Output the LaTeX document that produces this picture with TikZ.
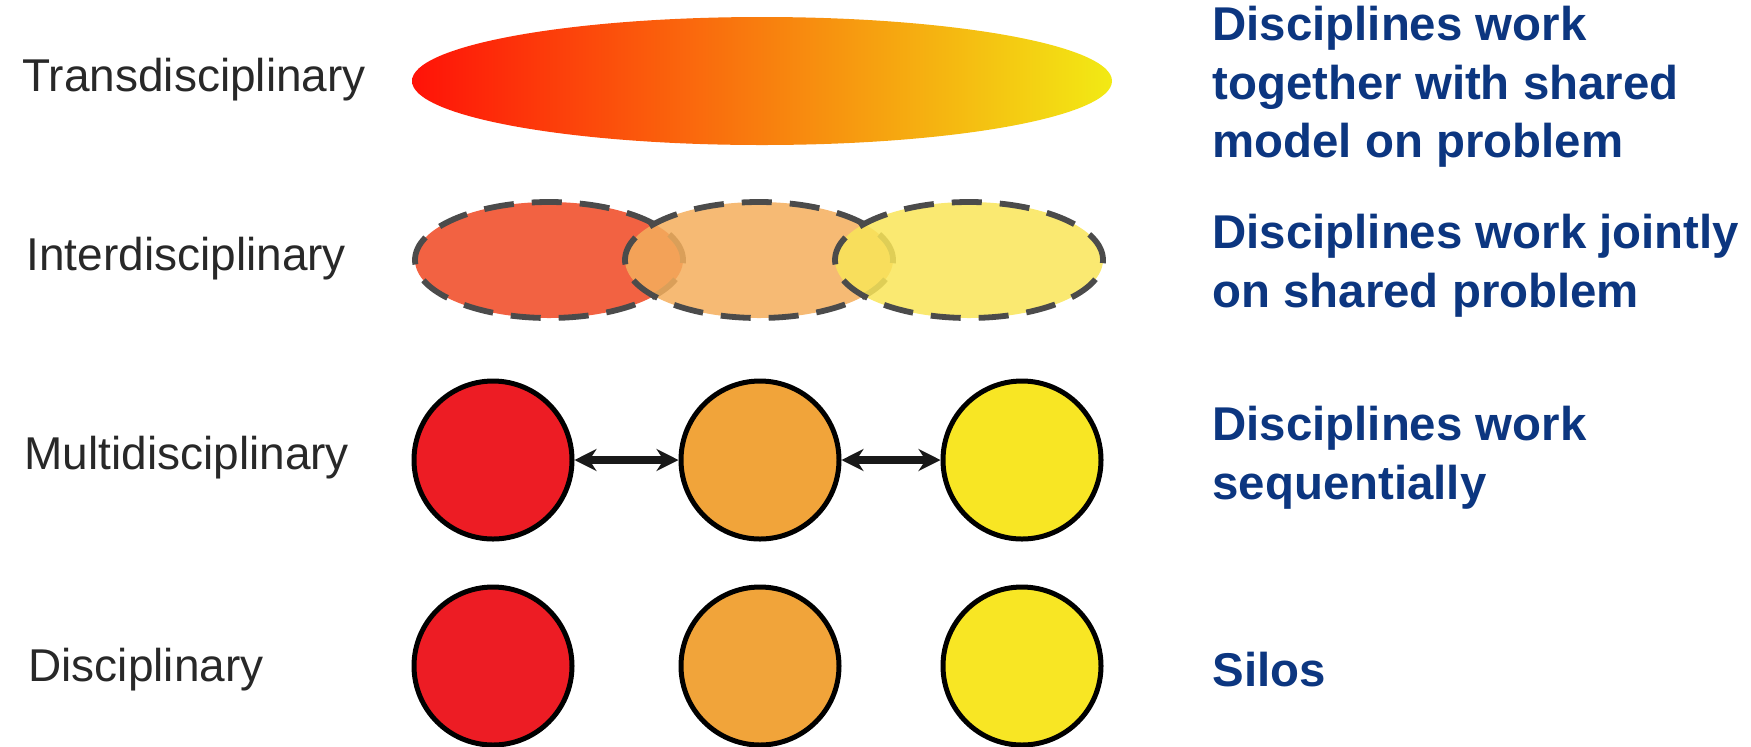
\documentclass[tikz,border=0pt]{standalone}
\usepackage{fontspec}
\setmainfont{Liberation Sans}
\usetikzlibrary{shapes.geometric,arrows.meta}
\definecolor{navy}{RGB}{12,54,128}
\definecolor{labgray}{RGB}{40,40,40}
\definecolor{cred}{RGB}{237,28,36}
\definecolor{corange}{RGB}{241,164,58}
\definecolor{cyellow}{RGB}{248,230,36}
\definecolor{ered}{RGB}{242,98,66}
\definecolor{eorange}{RGB}{244,174,92}
\definecolor{eyellow}{RGB}{249,229,88}
\definecolor{dashgray}{RGB}{75,75,75}
\begin{document}
\begin{tikzpicture}[x=0.5pt,y=-0.5pt,
  leftlab/.style={anchor=west,inner sep=0pt,text=labgray,font=\fontsize{23}{27}\selectfont},
  rightlab/.style={anchor=west,inner sep=0pt,text=navy,align=left,font=\fontsize{23.7}{29.3}\selectfont\bfseries},
  interell/.style={ellipse,minimum width=134pt,minimum height=58pt,inner sep=0pt,draw=dashgray,line width=2.9pt,dash pattern=on 15pt off 9pt},
  disc/.style={circle,minimum size=79pt,inner sep=0pt,draw=black,line width=2.5pt},
  link/.style={{Stealth[length=11pt,width=11pt]}-{Stealth[length=11pt,width=11pt]},line width=3.8pt,black!90}]
\useasboundingbox (0,0) rectangle (1751,746);
% left labels
\node[leftlab] (lt) at (22,80) {Transdisciplinary};
\node[leftlab] (li) at (26,259) {Interdisciplinary};
\node[leftlab] (lm) at (24,458) {Multidisciplinary};
\node[leftlab] (ld) at (28,670) {Disciplinary};
% transdisciplinary
\node[ellipse,minimum width=350pt,minimum height=64pt,inner sep=0pt,
  left color={rgb,255:red,255;green,18;blue,8},
  middle color={rgb,255:red,255;green,112;blue,10},
  right color={rgb,255:red,242;green,234;blue,20}] (tr) at (762,81) {};
% interdisciplinary
\node[interell,fill=ered] (i1) at (549,260) {};
\node[interell,fill=eorange,fill opacity=0.85] (i2) at (759,260) {};
\node[interell,fill=eyellow,fill opacity=0.85] (i3) at (969,260) {};
% multidisciplinary
\node[disc,fill=cred] (m1) at (493,460) {};
\node[disc,fill=corange] (m2) at (760,460) {};
\node[disc,fill=cyellow] (m3) at (1022,460) {};
\draw[link] (m1.east) -- (m2.west);
\draw[link] (m2.east) -- (m3.west);
% disciplinary
\node[disc,fill=cred] (d1) at (493,666) {};
\node[disc,fill=corange] (d2) at (760,666) {};
\node[disc,fill=cyellow] (d3) at (1022,666) {};
% right labels
\node[rightlab] (rt) at (1212,87) {Disciplines work\\together with shared\\model on problem};
\node[rightlab] (ri) at (1212,266) {Disciplines work jointly\\on shared problem};
\node[rightlab] (rm) at (1212,458) {Disciplines work\\sequentially};
\node[rightlab] (rd) at (1212,670) {Silos};
\end{tikzpicture}
\end{document}
